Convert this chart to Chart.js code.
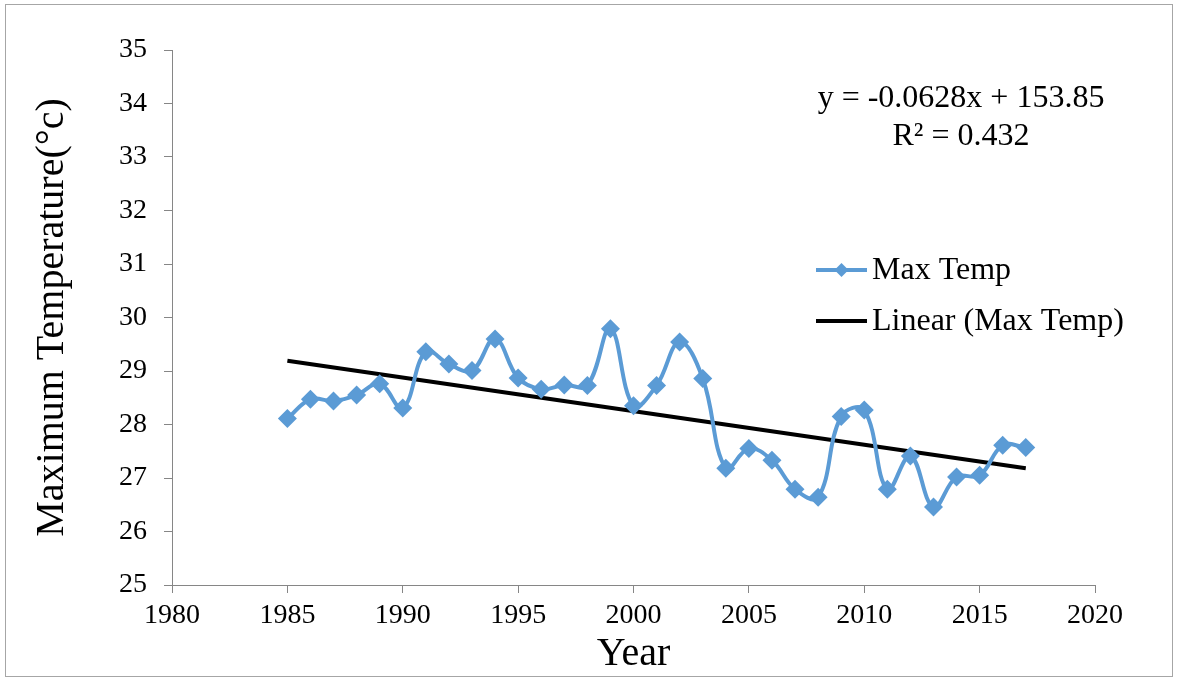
<!DOCTYPE html>
<html>
<head>
<meta charset="utf-8">
<title>Maximum Temperature</title>
<script src="https://cdn.jsdelivr.net/npm/chart.js@4.4.1/dist/chart.umd.min.js"></script>
<style>
  html, body { margin: 0; padding: 0; background: #ffffff; }
  canvas { display: block; }
</style>
</head>
<body>
<canvas id="chart" width="1178" height="679"></canvas>
<script>
// Annual maximum temperature (°C), 1985–2017
const years = [1985, 1986, 1987, 1988, 1989, 1990, 1991, 1992, 1993, 1994, 1995,
               1996, 1997, 1998, 1999, 2000, 2001, 2002, 2003, 2004, 2005, 2006,
               2007, 2008, 2009, 2010, 2011, 2012, 2013, 2014, 2015, 2016, 2017];
const maxTemp = [28.11, 28.47, 28.44, 28.55, 28.76, 28.31, 29.36, 29.13, 29.01, 29.60, 28.87,
                 28.66, 28.74, 28.73, 29.79, 28.35, 28.73, 29.54, 28.86, 27.18, 27.55, 27.33,
                 26.79, 26.64, 28.15, 28.27, 26.79, 27.41, 26.46, 27.02, 27.05, 27.61, 27.57];

// Linear trend as reported: y = -0.0628x + 153.85, R² = 0.432
const trendSlope = -0.0628;
const trendIntercept = 153.85;
const trendEquation = 'y = -0.0628x + 153.85';
const trendR2 = 'R\u00B2 = 0.432';

// Axis ranges and titles
const xRange = [1980, 2020];
const xStep = 5;
const yRange = [25, 35];
const yStep = 1;
const xTitle = 'Year';
const yTitle = 'Maximum Temperature(\u00B0c)';
const seriesLabels = ['Max Temp', 'Linear (Max Temp)'];

const firstYear = years[0];
const lastYear = years[years.length - 1];
const trendPoints = [
  { x: firstYear, y: trendSlope * firstYear + trendIntercept },
  { x: lastYear, y: trendSlope * lastYear + trendIntercept }
];

const BLUE = '#5B9BD5';
const AXIS = '#868686';
const SERIF = '"Liberation Serif", "Times New Roman", serif';

// Frame, key and trend equation drawn on top of the chart
const decorations = {
  id: 'decorations',
  beforeDraw(chart) {
    const ctx = chart.ctx;
    ctx.save();
    ctx.fillStyle = '#ffffff';
    ctx.fillRect(0, 0, chart.width, chart.height);
    ctx.strokeStyle = '#a6a6a6';
    ctx.lineWidth = 1;
    ctx.strokeRect(5.5, 4.5, 1167, 672);
    ctx.restore();
  },
  afterDraw(chart) {
    const ctx = chart.ctx;
    ctx.save();
    // trend equation
    ctx.fillStyle = '#000000';
    ctx.font = '32px ' + SERIF;
    ctx.textAlign = 'center';
    ctx.textBaseline = 'alphabetic';
    ctx.fillText(trendEquation, 961, 107);
    ctx.fillText(trendR2, 961, 145);

    // key
    const rows = [270, 321];
    const lineX0 = 816, lineX1 = 867, textX = 872;
    chart.data.datasets.forEach((ds, i) => {
      const y = rows[i];
      ctx.strokeStyle = ds.borderColor;
      ctx.lineWidth = ds.borderWidth;
      ctx.beginPath();
      ctx.moveTo(lineX0, y);
      ctx.lineTo(lineX1, y);
      ctx.stroke();
      if (ds.pointRadius > 0) {
        const cx = (lineX0 + lineX1) / 2, r = 7;
        ctx.fillStyle = ds.pointBackgroundColor;
        ctx.beginPath();
        ctx.moveTo(cx, y - r);
        ctx.lineTo(cx + r, y);
        ctx.lineTo(cx, y + r);
        ctx.lineTo(cx - r, y);
        ctx.closePath();
        ctx.fill();
      }
      ctx.fillStyle = '#000000';
      ctx.font = '32px ' + SERIF;
      ctx.textAlign = 'left';
      ctx.textBaseline = 'middle';
      ctx.fillText(ds.label, textX, y + 1);
    });
    ctx.restore();
  }
};

new Chart(document.getElementById('chart'), {
  type: 'line',
  data: {
    datasets: [
      {
        label: seriesLabels[0],
        data: years.map((yr, i) => ({ x: yr, y: maxTemp[i] })),
        borderColor: BLUE,
        backgroundColor: BLUE,
        borderWidth: 4,
        tension: 0.4,
        pointStyle: 'rectRot',
        pointRadius: 9.5,
        pointBackgroundColor: BLUE,
        pointBorderColor: BLUE,
        pointBorderWidth: 0,
        fill: false
      },
      {
        label: seriesLabels[1],
        data: trendPoints,
        borderColor: '#000000',
        backgroundColor: '#000000',
        borderWidth: 4,
        pointRadius: 0,
        tension: 0,
        fill: false
      }
    ]
  },
  options: {
    responsive: false,
    devicePixelRatio: 1,
    animation: false,
    layout: { padding: { left: 0, top: 50, right: 83, bottom: 0 } },
    plugins: {
      legend: { display: false },
      tooltip: { enabled: false }
    },
    scales: {
      x: {
        type: 'linear',
        min: xRange[0],
        max: xRange[1],
        afterFit(scale) { scale.height = 94; },
        border: { display: true, color: AXIS, width: 1 },
        grid: { drawOnChartArea: false, drawTicks: true, tickLength: 8, color: AXIS },
        ticks: {
          stepSize: xStep,
          padding: 6,
          color: '#000000',
          font: { family: SERIF, size: 28 },
          maxRotation: 0,
          callback: v => String(v)
        },
        title: {
          display: true,
          text: xTitle,
          color: '#000000',
          font: { family: SERIF, size: 40 },
          padding: { top: 0, bottom: 1 }
        }
      },
      y: {
        type: 'linear',
        min: yRange[0],
        max: yRange[1],
        afterFit(scale) { scale.width = 172; },
        border: { display: true, color: AXIS, width: 1 },
        grid: { drawOnChartArea: false, drawTicks: true, tickLength: 8, color: AXIS },
        ticks: {
          stepSize: yStep,
          padding: 17,
          color: '#000000',
          font: { family: SERIF, size: 28 },
          callback: v => String(v)
        },
        title: {
          display: true,
          text: yTitle,
          color: '#000000',
          font: { family: SERIF, size: 40 },
          padding: { top: 28, bottom: 0 }
        }
      }
    }
  },
  plugins: [decorations]
});
</script>
</body>
</html>
